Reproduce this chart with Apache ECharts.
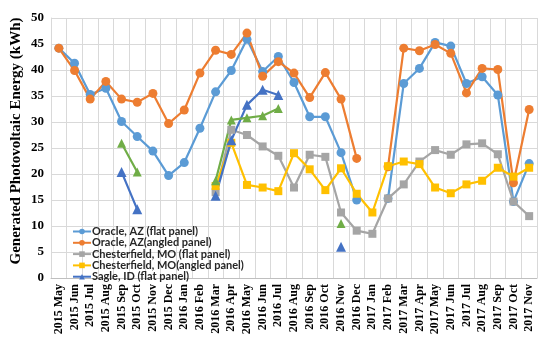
<!DOCTYPE html>
<html><head><meta charset="utf-8">
<script src="https://cdn.jsdelivr.net/npm/echarts@6/dist/echarts.min.js"></script>
<style>html,body{margin:0;padding:0;background:#fff}#c{width:550px;height:352px}</style>
</head><body><div id="c"></div>
<script>
const categories = ["2015 May","2015 Jun","2015 Jul","2015 Aug","2015 Sep","2015 Oct","2015 Nov","2015 Dec",
"2016 Jan","2016 Feb","2016 Mar","2016 Apr","2016 May","2016 Jun","2016 Jul","2016 Aug","2016 Sep","2016 Oct","2016 Nov","2016 Dec",
"2017 Jan","2017 Feb","2017 Mar","2017 Apr","2017 May","2017 Jun","2017 Jul","2017 Aug","2017 Sep","2017 Oct","2017 Nov"];
const oracleFlat = [44.2,41.3,35.3,36.5,30.1,27.2,24.4,19.7,
22.2,28.8,35.8,39.9,45.9,39.7,42.6,37.6,31.0,31.0,24.1,15.0,
null,15.3,37.4,40.3,45.3,44.6,37.4,38.7,35.2,14.7,22.0];
const oracleAngled = [44.2,39.9,34.4,37.8,34.4,33.8,35.5,29.7,
32.3,39.4,43.8,43.0,47.1,38.8,41.6,39.4,34.7,39.5,34.4,23.0,
null,21.4,44.2,43.7,44.9,43.2,35.6,40.3,40.1,18.3,32.4];
const chesterFlat = [null,null,null,null,null,null,null,null,
null,null,16.5,28.5,27.5,25.3,23.5,17.4,23.7,23.3,12.6,9.1,
8.5,15.3,18.0,22.4,24.6,23.7,25.7,25.9,23.8,14.7,11.9];
const chesterAngled = [null,null,null,null,null,null,null,null,
null,null,17.7,26.0,17.9,17.4,16.7,24.0,20.9,16.9,21.1,16.2,
12.6,21.5,22.4,21.9,17.4,16.3,18.0,18.7,21.2,19.5,21.2];
const sagleFlat = [null,null,null,null,20.4,13.2,null,null,
null,null,15.8,26.5,33.3,36.2,35.2,null,null,null,6.0,null,
null,null,null,null,null,null,null,null,null,null,null];
const sagleAngled = [null,null,null,null,25.9,20.4,null,null,
null,null,18.7,30.4,30.8,31.2,32.6,null,null,null,10.5,null,
null,null,null,null,null,null,null,null,null,null,null];
const yTicks = {min:0, max:50, interval:5};

const serif = '"Liberation Serif","Times New Roman",serif';
function mk(name, data, color, symbol, size){
  return {name, type:'line', data, connectNulls:false,
    symbol, symbolSize:size, showAllSymbol:true,
    lineStyle:{color, width:2.2}, itemStyle:{color},
    emphasis:{disabled:true}};
}
const chart = echarts.init(document.getElementById('c'));
chart.setOption({
  animation:false,
  grid:{left:51, right:13, top:18, bottom:74},
  xAxis:{type:'category', data:categories, boundaryGap:true,
    axisLine:{lineStyle:{color:'#bfbfbf'}}, axisTick:{show:false},
    splitLine:{show:true, interval:0, lineStyle:{color:'#d9d9d9'}},
    axisLabel:{interval:0, rotate:90, fontFamily:serif, fontWeight:'bold', fontSize:12, color:'#000', margin:6}},
  yAxis:{type:'value', min:yTicks.min, max:yTicks.max, interval:yTicks.interval,
    axisLine:{show:true, lineStyle:{color:'#d9d9d9'}}, axisTick:{show:false},
    splitLine:{lineStyle:{color:'#d9d9d9'}},
    axisLabel:{fontFamily:serif, fontWeight:'bold', fontSize:13, color:'#000', margin:7}},
  graphic:[{type:'text', x:16, y:141, rotation:Math.PI/2,
    style:{text:'Generated Photovoltaic Energy (kWh)', font:'bold 15px '+serif, fill:'#000', align:'center', verticalAlign:'middle'}}],
  legend:{data:['Oracle, AZ (flat panel)','Oracle, AZ(angled panel)','Chesterfield, MO (flat panel)','Chesterfield, MO(angled panel)','Sagle, ID (flat panel)'],
    orient:'vertical', left:72, top:226, padding:0, itemGap:0.3, itemWidth:18, itemHeight:7,
    textStyle:{fontFamily:'Lato, sans-serif', fontWeight:'bold', fontSize:11, lineHeight:10, color:'#262626', padding:[0,0,0,-4]}},
  series:[
    mk('Oracle, AZ (flat panel)', oracleFlat, '#5b9bd5', 'circle', 9),
    mk('Oracle, AZ(angled panel)', oracleAngled, '#ed7d31', 'circle', 9),
    mk('Chesterfield, MO (flat panel)', chesterFlat, '#a5a5a5', 'rect', 8),
    mk('Chesterfield, MO(angled panel)', chesterAngled, '#ffc000', 'rect', 8),
    mk('Sagle, ID (flat panel)', sagleFlat, '#4472c4', 'triangle', 10),
    mk('Sagle, ID (angled panel)', sagleAngled, '#70ad47', 'triangle', 9)
  ]
});
</script></body></html>
